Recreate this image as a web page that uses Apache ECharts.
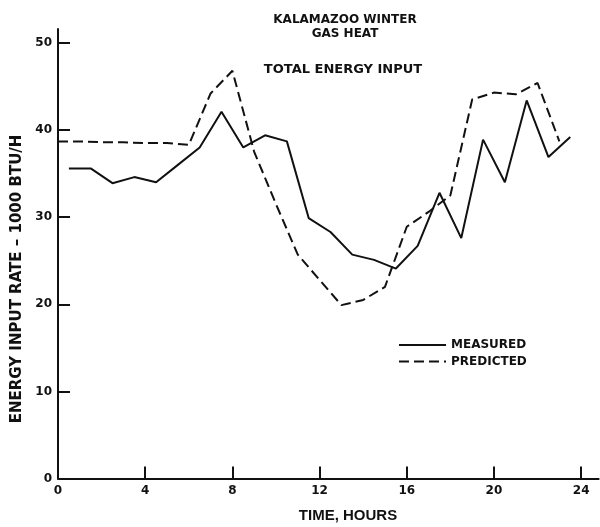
<!DOCTYPE html>
<html>
<head>
<meta charset="utf-8">
<script src="https://cdn.jsdelivr.net/npm/echarts@6/dist/echarts.min.js"></script>
<style>
html,body{margin:0;padding:0;background:#fff;}
#chart{width:600px;height:527px;}
</style>
</head>
<body>
<div id="chart"></div>
<script>
// ---- data ----
const measuredHours = [0.5,1.5,2.5,3.5,4.5,5.5,6.5,7.5,8.5,9.5,10.5,11.5,12.5,13.5,14.5,15.5,16.5,17.5,18.5,19.5,20.5,21.5,22.5,23.5];
const measured = [35.6,35.6,33.9,34.6,34.0,36.0,38.0,42.1,38.0,39.4,38.7,29.9,28.3,25.7,25.1,24.1,26.7,32.8,27.6,38.9,34.0,43.4,36.9,39.2];
const predictedHours = [0,1,2,3,4,5,6,7,8,9,10,11,12,13,14,15,16,17,18,19,20,21,22,23];
const predicted = [38.7,38.7,38.6,38.6,38.5,38.5,38.3,44.2,46.8,37.5,31.5,25.7,22.8,19.9,20.5,22.0,28.9,30.6,32.5,43.5,44.3,44.1,45.4,38.7];
const xTicks = [0,4,8,12,16,20,24];
const yTicks = [0,10,20,30,40,50];
const seriesNames = ['MEASURED','PREDICTED'];
const titleLines = ['KALAMAZOO WINTER','GAS HEAT'];
const subTitle = 'TOTAL ENERGY INPUT';
const xName = 'TIME, HOURS';
const yName = 'ENERGY INPUT RATE – 1000 BTU/H';

const ink = '#111';
const font = 'DejaVu Sans';
const chart = echarts.init(document.getElementById('chart'), null, {renderer:'canvas'});

const zip = (xs, ys) => xs.map((x, i) => [x, ys[i]]);

chart.setOption({
  animation: false,
  backgroundColor: '#fff',
  title: [
    {text: titleLines.join('\n'), left: 340, top: 8, textAlign: 'center',
     textStyle: {fontFamily: font, fontWeight: 'bold', fontSize: 12, color: ink, lineHeight: 14}},
    {text: subTitle, left: 338, top: 58, textAlign: 'center',
     textStyle: {fontFamily: font, fontWeight: 'bold', fontSize: 13, color: ink}}
  ],
  legend: {
    orient: 'vertical', left: 393, top: 334,
    itemWidth: 47, itemHeight: 14, itemGap: 4.4,
    data: seriesNames,
    itemStyle: {opacity: 0},
    textStyle: {fontFamily: font, fontWeight: 'bold', fontSize: 12, color: ink}
  },
  grid: {left: 58, right: 1.4, top: 29, bottom: 48.5, containLabel: false},
  xAxis: {
    type: 'value', min: 0, max: 24.8, interval: 4,
    axisLine: {show: true, lineStyle: {color: ink, width: 2}},
    axisTick: {show: true, inside: true, length: 12, lineStyle: {color: ink, width: 2}, customValues: xTicks},
    axisLabel: {color: ink, fontFamily: font, fontWeight: 'bold', fontSize: 12, margin: 6, customValues: xTicks},
    splitLine: {show: false}
  },
  yAxis: {
    type: 'value', min: 0, max: 51.6, interval: 10,
    axisLine: {show: true, lineStyle: {color: ink, width: 2}},
    axisTick: {show: true, inside: true, length: 12, lineStyle: {color: ink, width: 2}, customValues: yTicks},
    axisLabel: {color: ink, fontFamily: font, fontWeight: 'bold', fontSize: 12, margin: 6, customValues: yTicks},
    splitLine: {show: false}
  },
  graphic: [
    {type: 'text', x: 17, y: 279, rotation: Math.PI / 2,
     style: {text: yName, fill: ink, font: 'bold 15px "DejaVu Sans"', align: 'center', verticalAlign: 'middle'}},
    {type: 'text', x: 348, y: 516,
     style: {text: xName, fill: ink, font: 'bold 15px "Liberation Sans"', align: 'center', verticalAlign: 'middle'}}
  ],
  series: [
    {name: seriesNames[0], type: 'line', data: zip(measuredHours, measured), symbol: 'none',
     lineStyle: {color: ink, width: 2, type: 'solid'}, itemStyle: {color: ink}},
    {name: seriesNames[1], type: 'line', data: zip(predictedHours, predicted), symbol: 'none',
     lineStyle: {color: ink, width: 2, type: [10, 5]}, itemStyle: {color: ink}}
  ]
});
</script>
</body>
</html>
